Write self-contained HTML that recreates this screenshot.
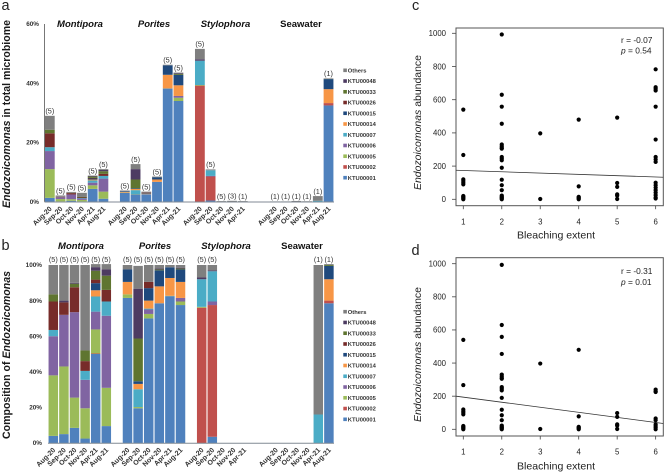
<!DOCTYPE html>
<html lang="en">
<head>
<meta charset="utf-8">
<title>Endozoicomonas composition and abundance</title>
<style>
html,body{margin:0;padding:0;background:#fff;width:665px;height:473px;overflow:hidden}
svg{display:block;font-family:"Liberation Sans",sans-serif}
.head{font-size:9.5px;font-weight:bold;text-anchor:middle;fill:#111}
.letter{font-size:14.5px;fill:#222}
.ytitle{font-size:10.6px;font-weight:bold;fill:#1a1a1a}
.sctitle{font-size:10.4px;fill:#222}
.stat{font-size:8.4px;fill:#222}
</style>
</head>
<body>
<svg id="fig" width="665" height="473" viewBox="0 0 665 473" xmlns="http://www.w3.org/2000/svg">
  <text class="letter" x="1.5" y="10">a</text>
  <text class="letter" x="1.5" y="250">b</text>
  <text class="letter" x="412" y="10">c</text>
  <text class="letter" x="411.5" y="255">d</text>

  <text class="ytitle" transform="translate(10,208) rotate(-90)" textLength="188" lengthAdjust="spacingAndGlyphs"><tspan font-style="italic">Endozoicomonas</tspan> in total microbiome</text>
  <text class="ytitle" transform="translate(10,439) rotate(-90)" textLength="168" lengthAdjust="spacingAndGlyphs">Composition of <tspan font-style="italic">Endozoicomonas</tspan></text>

  <text class="head" font-style="italic" x="80" y="27">Montipora</text>
  <text class="head" font-style="italic" x="154" y="27">Porites</text>
  <text class="head" font-style="italic" x="225.5" y="27">Stylophora</text>
  <text class="head" x="301" y="27">Seawater</text>
  <text class="head" font-style="italic" x="81" y="249">Montipora</text>
  <text class="head" font-style="italic" x="155" y="249">Porites</text>
  <text class="head" font-style="italic" x="226" y="249">Stylophora</text>
  <text class="head" x="302" y="249">Seawater</text>

  <text class="sctitle" transform="translate(421,190) rotate(-90)" textLength="135" lengthAdjust="spacingAndGlyphs"><tspan font-style="italic">Endozoicomonas</tspan> abundance</text>
  <text class="sctitle" transform="translate(421,422) rotate(-90)" textLength="135" lengthAdjust="spacingAndGlyphs"><tspan font-style="italic">Endozoicomonas</tspan> abundance</text>
  <text x="556" y="238.5" font-size="10.5" fill="#222" text-anchor="middle" textLength="78" lengthAdjust="spacingAndGlyphs">Bleaching extent</text>
  <text x="556" y="469.5" font-size="10.5" fill="#222" text-anchor="middle" textLength="78" lengthAdjust="spacingAndGlyphs">Bleaching extent</text>

  <text class="stat" x="621" y="43">r = -0.07</text>
  <text class="stat" x="621" y="53.7"><tspan font-style="italic">p</tspan> = 0.54</text>
  <text class="stat" x="621" y="274">r = -0.31</text>
  <text class="stat" x="621" y="285"><tspan font-style="italic">p</tspan> = 0.01</text>
</svg>
<script>
// ---- shared categories and series ----
const categories = ['Aug-20','Sep-20','Oct-20','Nov-20','Apr-21','Aug-21','',
  'Aug-20','Sep-20','Oct-20','Nov-20','Apr-21','Aug-21','',
  'Aug-20','Sep-20','Oct-20','Nov-20','Apr-21','','',
  'Aug-20','Sep-20','Oct-20','Nov-20','Apr-21','Aug-21'];
const seriesNames = ['KTU00001','KTU00002','KTU00005','KTU00006','KTU00007','KTU00014','KTU00015','KTU00026','KTU00033','KTU00048','Others'];
const seriesColors = ['#4f81bd','#c0504d','#9bbb59','#8064a2','#4bacc6','#f79646','#1f497d','#772c2a','#5f7530','#4d3b62','#7f7f7f'];

// ---- panel a: percent of total microbiome ----
const aK1  = [1.3,.1,.3,.1,4.3,1.0,0, 3.0,2.5,2.4,6.7,38.2,34,0, 0,.4,0,0,0,0,0, 0,0,0,0,0,32.5];
const aK2  = [0,0,0,0,.03,0,0, 0,0,0,0,0,0,0, 39.2,8.1,0,0,0,0,0, 0,0,0,0,0,.8];
const aK5  = [9.7,.8,.55,.5,1.2,2.4,0, .08,.1,.1,0,.05,1.1,0, .2,0,0,0,0,0,0, 0,0,0,0,0,0];
const aK6  = [6.1,.6,1.6,.5,.9,4.4,0, 0,0,.1,0,0,.6,0, 0,.2,0,0,0,0,0, 0,0,0,0,0,0];
const aK7  = [1.3,0,0,.15,.75,.9,0, 0,1.3,0,0,0,0,0, 8.2,1.9,0,0,0,0,0, 0,0,0,0,.3,0];
const aK14 = [0,0,0,0,.3,0,0, .25,.4,.15,.8,4.6,3.6,0, 0,0,0,0,0,0,0, 0,0,0,0,0,4.7];
const aK15 = [0,0,0,0,.35,0,0, .25,.2,.25,.75,3.2,3.5,0, 0,0,0,0,0,0,0, 0,0,0,0,0,3.4];
const aK26 = [4.7,.15,.45,.17,.2,.7,0, 0,0,.1,0,0,0,0, 0,0,0,0,0,0,0, 0,0,0,0,0,0];
const aK33 = [1.2,0,.07,.18,.45,.9,0, 0,3,0,.05,0,.3,0, 0,0,0,0,0,0,0, 0,0,0,0,0,.05];
const aK48 = [0,.02,.02,0,.2,.4,0, 0,3.5,0,.05,0,.2,0, .5,0,0,0,0,0,0, 0,0,0,0,0,0];
const aOth = [4.7,.43,.31,1.4,.15,.3,0, .2,1.7,.3,.15,.2,.3,0, 3.5,.3,.2,.3,.2,0,0, .1,.1,.25,.15,1.6,.2];
const aCounts = ['(5)','(5)','(5)','(5)','(5)','(5)','', '(5)','(5)','(5)','(5)','(5)','(5)','', '(5)','(5)','(5)','(3)','(1)','','', '(1)','(1)','(1)','(1)','(1)','(1)'];
const aTicks = [0,20,40,60];

// ---- panel b: composition percent ----
const bK1  = [4,5,8.5,2.5,50,9.5,0, 81.5,19.5,70,78.5,82.5,77.5,0, 0,3.5,0,0,0,0,0, 0,0,0,0,0,78.5];
const bK2  = [0,0,0,0,.3,0,0, 0,0,0,0,0,0,0, 76,74,0,0,0,0,0, 0,0,0,0,0,1.5];
const bK5  = [34,38,17,17,13.5,21.5,0, 2,.7,2.5,0,.2,2,0, .5,0,0,0,0,0,0, 0,0,0,0,0,0];
const bK6  = [22,29,48,16,10,40.5,0, 0,0,2.5,0,0,2,0, 0,2,0,0,0,0,0, 0,0,0,0,0,0];
const bK7  = [3.5,0,0,5,8.5,8,0, 0,10,.5,0,0,0,0, 15.5,17,0,0,0,0,0, 0,0,0,0,16,0];
const bK14 = [0,0,0,0,3.5,0,0, 7,3,4.5,9.5,10,9,0, 0,0,0,0,0,0,0, 0,0,0,0,0,12];
const bK15 = [0,0,0,0,4,0,0, 7,1.5,7,9,6,7,0, 0,0,0,0,0,0,0, 0,0,0,0,0,7.5];
const bK26 = [16,7,14,5.5,2,6.5,0, 0,0,3.5,0,0,0,0, 0,0,0,0,0,0,0, 0,0,0,0,0,0];
const bK33 = [4,0,2,6,5,8,0, 0,24,0,.5,0,.5,0, 0,0,0,0,0,0,0, 0,0,0,0,0,.5];
const bK48 = [0,1,.5,0,2,3.5,0, 0,28,0,.5,0,.5,0, 1,.5,0,0,0,0,0, 0,0,0,0,0,0];
const bOth = [16.5,20,10,48,1.7,3,0, 2.5,12.8,9.5,2,1.3,1.5,0, 7,3,0,0,0,0,0, 0,0,0,0,84,.5];
const bCounts = ['(5)','(5)','(5)','(5)','(5)','(5)','', '(5)','(5)','(5)','(5)','(5)','(5)','', '(5)','(5)','','','','','', '','','','','(1)','(1)'];
const bTicks = [0,20,40,60,80,100];

// ---- panels c, d: abundance vs bleaching extent ----
const cExtent = [1,1,1,1,1,1,1,1,1,1,1, 2,2,2,2,2,2,2,2,2,2,2,2,2,2,2,2,2,2,2,2, 3,3, 4,4,4,4,4,4, 5,5,5,5,5,5, 6,6,6,6,6,6,6,6,6,6,6,6,6,6,6,6,6];
const cAbundance = [540,267,120,110,100,90,20,15,10,5,0, 993,630,558,455,330,320,310,305,255,245,235,190,118,85,55,22,15,10,5,0, 397,2, 480,78,15,10,5,0, 492,98,75,30,22,2, 783,675,665,655,558,360,255,240,225,100,85,70,55,40,25,10,5];
const dExtent = [1,1,1,1,1,1,1,1,1,1,1, 2,2,2,2,2,2,2,2,2,2,2,2,2,2,2,2,2,2,2,2, 3,3, 4,4,4,4,4,4, 5,5,5,5,5, 6,6,6,6,6,6,6,6,6];
const dAbundance = [540,267,120,110,100,90,20,15,10,5,0, 993,630,558,455,330,320,310,305,255,245,235,190,118,85,55,22,15,10,5,0, 397,2, 480,78,15,10,5,0, 98,75,30,22,2, 240,230,225,65,55,30,20,10,0];
const cFitX = [0.81,6.2];
const cFitY = [175,133];
const dFitX = [0.81,6.2];
const dFitY = [200,35];
const scatterXTicks = [1,2,3,4,5,6];
const scatterYTicks = [0,200,400,600,800,1000];

const svg = document.getElementById('fig');
const NS = 'http://www.w3.org/2000/svg';
function mk(tag, attrs, text) {
  const el = document.createElementNS(NS, tag);
  for (const k in attrs) el.setAttribute(k, attrs[k]);
  if (text !== undefined) el.textContent = text;
  svg.appendChild(el);
  return el;
}

function drawStack(p) {
  const y = v => p.y0 - (v / p.maxV) * (p.y0 - p.yTop);
  const x = i => p.c0 + i * p.step;
  p.ticks.forEach(t => {
    const lab = mk('text', {x: p.tickX, y: y(t) + 2.2, 'font-size': 6.4, 'font-weight': 'bold', 'text-anchor': 'end', fill: '#333'}, t + '%');
    
    
  });
  categories.forEach((cat, i) => {
    let acc = 0;
    p.series.forEach((arr, s) => {
      const v = arr[i];
      if (!v) return;
      const seg = mk('rect', {x: x(i) - p.bw / 2, y: y(acc + v), width: p.bw, height: y(acc) - y(acc + v), fill: seriesColors[s]});
      
      
      acc += v;
    });
    if (p.counts[i]) {
      const ly = p.countY === null ? y(acc) - 2.2 : p.countY;
      const cnt = mk('text', {x: x(i), y: ly, 'font-size': 7.3, 'text-anchor': 'middle', fill: '#333'}, p.counts[i]);
      
      
    }
    if (cat) {
      const lx = x(i) + 2.5, ly = p.y0 + 7.5;
      const lab = mk('text', {x: lx, y: ly, 'font-size': 7, 'font-weight': 'bold', 'text-anchor': 'end', fill: '#333', transform: 'rotate(-45 ' + lx + ' ' + ly + ')'}, cat);
      
      
    }
  });
  const xAxis = mk('line', {x1: p.axisLeft, x2: 334, y1: p.y0 + .3, y2: p.y0 + .3, stroke: '#808a94', 'stroke-width': 1});
  
  
  if (p.yAxis) {
    const yAxis = mk('line', {x1: 44.5, x2: 44.5, y1: p.yTop, y2: p.y0, stroke: '#777', 'stroke-width': 1});
    
    
  }
  seriesNames.forEach((name, s) => {
    const ly = p.legendTop + (seriesNames.length - 1 - s) * p.legendStep;
    const sw = mk('rect', {x: 343.3, y: ly - 1.8, width: 3.6, height: 3.6, fill: seriesColors[s]});
    
    
    const tx = mk('text', {x: 347.8, y: ly + 2.1, 'font-size': 5.8, 'font-weight': 'bold', fill: '#333'}, name);
    
    
  });
}

drawStack({y0: 201.7, yTop: 24, maxV: 60, c0: 49.8, step: 10.72, bw: 9.8, tickX: 39, axisLeft: 44.5, yAxis: true,
  ticks: aTicks, counts: aCounts, countY: null, legendTop: 70.3, legendStep: 10.74,
  series: [aK1,aK2,aK5,aK6,aK7,aK14,aK15,aK26,aK33,aK48,aOth]});
drawStack({y0: 443, yTop: 265, maxV: 100, c0: 53.3, step: 10.6, bw: 9.5, tickX: 42, axisLeft: 48, yAxis: false,
  ticks: bTicks, counts: bCounts, countY: 261.8, legendTop: 311.7, legendStep: 10.76,
  series: [bK1,bK2,bK5,bK6,bK7,bK14,bK15,bK26,bK33,bK48,bOth]});

function drawScatter(p) {
  const x = v => 463.3 + (v - 1) * 38.47;
  const y = v => p.y0 - v * (p.y0 - p.y1000) / 1000;
  const box = mk('rect', {x: 456, y: p.top, width: 207.3, height: p.bottom - p.top, fill: 'none', stroke: '#555', 'stroke-width': 1});
  
  
  scatterYTicks.forEach(t => {
    const tick = mk('line', {x1: 452, x2: 456, y1: y(t), y2: y(t), stroke: '#444', 'stroke-width': .8});
    
    
    const lab = mk('text', {x: 446, y: y(t) + 2.8, 'font-size': 7.8, 'text-anchor': 'end', fill: '#222'}, t);
    
    
  });
  scatterXTicks.forEach(t => {
    const tick = mk('line', {x1: x(t), x2: x(t), y1: p.bottom, y2: p.bottom + 3.5, stroke: '#444', 'stroke-width': .8});
    
    
    const lab = mk('text', {x: x(t), y: p.bottom + 18.7, 'font-size': 7.8, 'text-anchor': 'middle', fill: '#222'}, t);
    
    
  });
  const fit = mk('line', {x1: x(p.fitX[0]), x2: x(p.fitX[1]), y1: y(p.fitY[0]), y2: y(p.fitY[1]), stroke: '#333', 'stroke-width': .8});
  
  
  p.xs.forEach((v, i) => {
    const dot = mk('circle', {cx: x(v), cy: y(p.ys[i]), r: 2.1, fill: '#000'});
    
    
  });
}

drawScatter({y0: 199.3, y1000: 33.3, top: 28, bottom: 205.7, xs: cExtent, ys: cAbundance, fitX: cFitX, fitY: cFitY});
drawScatter({y0: 429.3, y1000: 263.7, top: 257.7, bottom: 436, xs: dExtent, ys: dAbundance, fitX: dFitX, fitY: dFitY});
</script>
</body>
</html>
